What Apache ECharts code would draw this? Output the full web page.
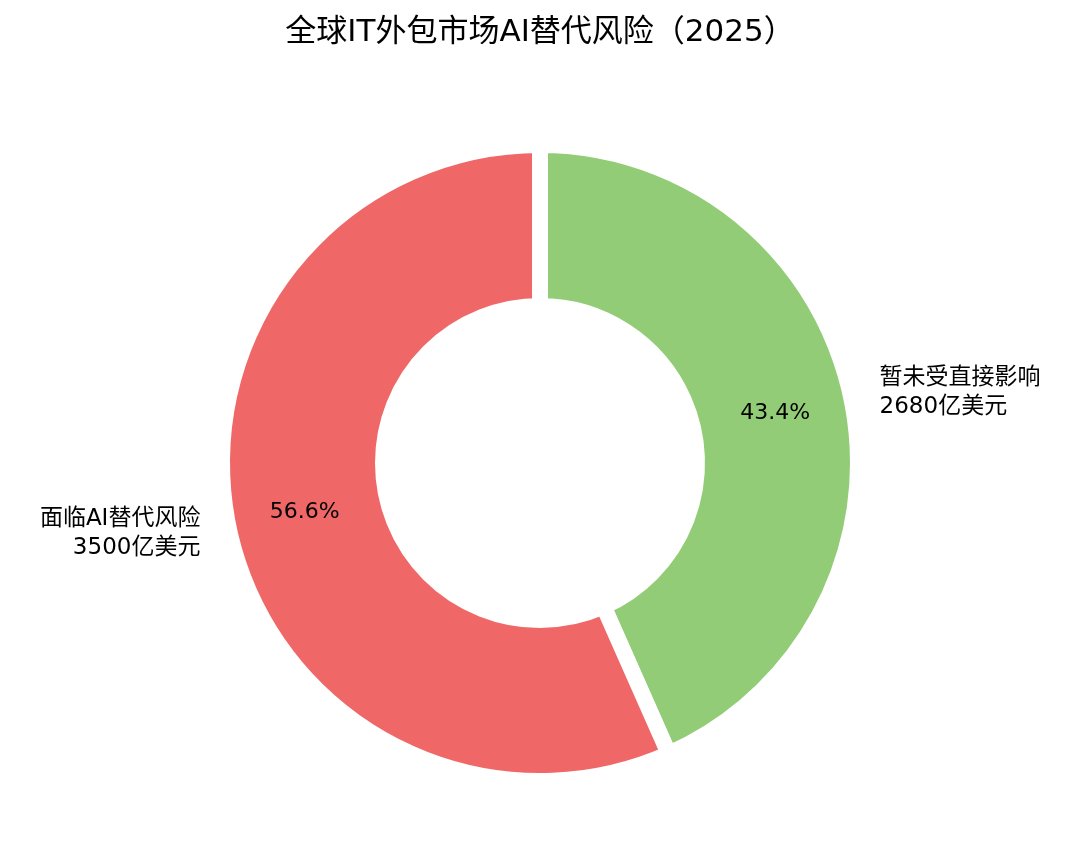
<!DOCTYPE html>
<html>
<head>
<meta charset="utf-8">
<script src="https://cdn.jsdelivr.net/npm/echarts@6/dist/echarts.min.js"></script>
<style>html,body{margin:0;padding:0;background:#fff}#chart{width:1080px;height:860px}</style>
</head>
<body>
<div id="chart"></div>
<script>
// 数据
const categorias = ['暂未受直接影响', '面临AI替代风险'];
const valores = [2680, 3500];
const colores = ['#93cc76', '#ef6767'];

const datos = categorias.map((c, i) => ({ name: c, value: valores[i], itemStyle: { color: colores[i] } }));
const total = valores.reduce((a, b) => a + b, 0);
const fuente = '"DejaVu Sans", "Noto Sans CJK SC", sans-serif';

const base = {
    type: 'pie',
    center: [540, 463],
    radius: [157, 318],
    startAngle: 90,
    clockwise: true,
    silent: true,
    itemStyle: { borderColor: '#fff', borderWidth: 16 },
    data: datos
};

const grafico = echarts.init(document.getElementById('chart'));
grafico.setOption({
    title: {
        text: '全球IT外包市场AI替代风险（2025）',
        left: 'center', top: 12,
        textStyle: { fontFamily: fuente, fontSize: 31, fontWeight: 'normal', color: '#000' }
    },
    series: [
        Object.assign({}, base, {
            label: {
                position: 'outside',
                fontFamily: fuente, fontSize: 23, color: '#000', lineHeight: 29,
                formatter: p => `${p.name}\n${p.value}亿美元`
            },
            labelLine: { show: false, length: 24, length2: 0 }
        }),
        Object.assign({}, base, {
            label: {
                position: 'inside',
                fontFamily: fuente, fontSize: 22, color: '#000',
                formatter: p => (p.value / total * 100).toFixed(1) + '%'
            }
        })
    ]
});
</script>
</body>
</html>
